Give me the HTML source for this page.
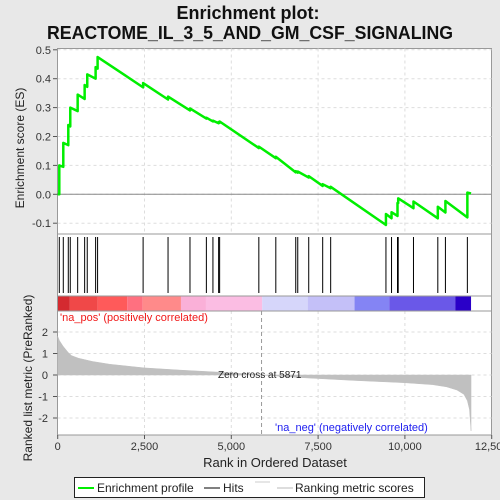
<!DOCTYPE html>
<html><head><meta charset="utf-8"><style>
html,body{margin:0;padding:0;background:#e8e8e8;}
svg{display:block;font-family:"Liberation Sans","DejaVu Sans",sans-serif;}
</style></head><body>
<svg id="c" width="500" height="500" viewBox="0 0 500 500" xmlns="http://www.w3.org/2000/svg">
<rect x="0" y="0" width="500" height="500" fill="#e8e8e8"/>
<text x="248" y="19" text-anchor="middle" font-size="18" font-weight="bold" fill="#111">Enrichment plot:</text>
<text x="250" y="39" text-anchor="middle" font-size="18" font-weight="bold" fill="#111" textLength="406" lengthAdjust="spacingAndGlyphs">REACTOME_IL_3_5_AND_GM_CSF_SIGNALING</text>
<g id="g"></g>
</svg>
<script>
const hitRanks=[46,161,305,362,575,776,851,1092,1149,2460,3178,3810,4282,4471,4635,4664,5793,6282,6856,6914,7230,7632,7862,9454,9615,9787,9807,10247,10948,11167,11799];
const esBefore=[0,0.095,0.17,0.235,0.288,0.33,0.372,0.40,0.435,0.37,0.328,0.29,0.262,0.252,0.246,0.248,0.16,0.125,0.076,0.075,0.058,0.029,0.021,-0.106,-0.083,-0.075,-0.03,-0.048,-0.083,-0.063,-0.08];
const esAfter=[0.10,0.178,0.24,0.30,0.345,0.378,0.415,0.44,0.475,0.385,0.338,0.297,0.265,0.255,0.25,0.252,0.165,0.13,0.08,0.079,0.063,0.035,0.026,-0.068,-0.062,-0.03,-0.014,-0.025,-0.043,-0.023,0.006];
const endRank=11905;
const esTicks=[0.5,0.4,0.3,0.2,0.1,0.0,-0.1];
const rankTicks=[0,2500,5000,7500,10000,12500];
const rankTickLabels=["0","2,500","5,000","7,500","10,000","12,500"];
const metricTicks=[2,1,0,-1,-2];
const metricRanks=[0,50,150,300,400,600,1000,1500,2500,3500,5000,5871,7000,8500,10000,10800,11200,11500,11700,11800,11860,11905];
const metricVals=[1.8,1.6,1.35,1.05,0.9,0.78,0.63,0.5,0.33,0.23,0.1,0,-0.12,-0.25,-0.36,-0.45,-0.55,-0.7,-0.9,-1.2,-1.6,-2.6];
const barStops=[0,350,1150,2000,2450,3550,4270,5890,7200,8550,9550,11450,11905];
const barColors=["#d42a30","#f04848","#ff5a5a","#ff7080","#ff8a8a","#fab0d8","#fbbde3","#d6d6fa","#c4c0f8","#8484f4","#6a58e8","#2a00c8"];

const NS="http://www.w3.org/2000/svg";
const g=document.getElementById('g');
function mk(t,a,p){const e=document.createElementNS(NS,t);for(const k in a)e.setAttribute(k,a[k]);(p||g).appendChild(e);return e;}
const X0=57.7,X1=491.7,RMAX=12500;
const xs=r=>X0+(X1-X0)*r/RMAX;
const yES=v=>194.3-v*289;
const yM=v=>375-v*21.5;

let e=mk('rect',{x:57.5,y:48.5,width:434,height:386.5,fill:'#fff',stroke:'#999'});

esTicks.forEach(v=>{
 e=mk('line',{x1:57.5,x2:491.5,y1:yES(v),y2:yES(v),stroke:'#ddd','stroke-dasharray':'3,3'});
 
 e=mk('line',{x1:53,x2:57.5,y1:yES(v),y2:yES(v),stroke:'#555'});
 
 e=mk('text',{x:51,y:yES(v)+4,'text-anchor':'end','font-size':'11',fill:'#333'});
 e.textContent=v.toFixed(1);
 
});
rankTicks.forEach((r,i)=>{
 if(i>0&&i<5){
 e=mk('line',{x1:xs(r),x2:xs(r),y1:48.5,y2:234,stroke:'#ddd','stroke-dasharray':'3,3'});
 
 e=mk('line',{x1:xs(r),x2:xs(r),y1:311,y2:435,stroke:'#ddd','stroke-dasharray':'3,3'});
 }
 e=mk('line',{x1:xs(r),x2:xs(r),y1:435,y2:439,stroke:'#555'});
 
 e=mk('text',{x:xs(r),y:450,'text-anchor':'middle','font-size':'11',fill:'#333'});
 e.textContent=rankTickLabels[i];
 
});
e=mk('line',{x1:57.5,x2:491.5,y1:yES(0),y2:yES(0),stroke:'#888'});

e=mk('line',{x1:57.5,x2:491.5,y1:234,y2:234,stroke:'#999'});

hitRanks.forEach(r=>{
 e=mk('line',{x1:xs(r),x2:xs(r),y1:237,y2:293,stroke:'#000','stroke-width':1});
 
});
for(let i=0;i<barColors.length;i++){
 e=mk('rect',{x:xs(barStops[i]),y:296,width:xs(barStops[i+1])-xs(barStops[i]),height:15,fill:barColors[i]});
 
}
e=mk('rect',{x:57.5,y:296,width:434,height:15,fill:'none',stroke:'#999'});

let pts=[[xs(0),yES(0)]];
hitRanks.forEach((r,i)=>{pts.push([xs(r),yES(esBefore[i])]);pts.push([xs(r),yES(esAfter[i])]);});
pts.push([xs(endRank),yES(0.003)]);
e=mk('polyline',{points:pts.map(p=>p.join(',')).join(' '),fill:'none',stroke:'#00ee00','stroke-width':2.5,'stroke-linejoin':'round'});

metricTicks.forEach(v=>{
 e=mk('line',{x1:57.5,x2:491.5,y1:yM(v),y2:yM(v),stroke:'#ddd','stroke-dasharray':'3,3'});
 
 e=mk('line',{x1:53,x2:57.5,y1:yM(v),y2:yM(v),stroke:'#555'});
 
 e=mk('text',{x:48,y:yM(v)+4,'text-anchor':'end','font-size':'11',fill:'#333'});
 e.textContent=String(v);
 
});
let mp=[[xs(0),yM(0)]];
metricRanks.forEach((r,i)=>mp.push([xs(r),yM(metricVals[i])]));
mp.push([xs(metricRanks[metricRanks.length-1]),yM(0)]);
e=mk('polygon',{points:mp.map(p=>p.join(',')).join(' '),fill:'#c0c0c0',stroke:'#c0c0c0','stroke-width':0.5});

e=mk('line',{x1:xs(5871),x2:xs(5871),y1:311,y2:435,stroke:'#999','stroke-dasharray':'4,3'});

e=mk('line',{x1:57.5,x2:491.5,y1:311,y2:311,stroke:'#999'});

</script>
<svg style="position:absolute;left:0;top:0" width="500" height="500" xmlns="http://www.w3.org/2000/svg">
<g font-family="Liberation Sans, DejaVu Sans, sans-serif">
<text x="60" y="321" font-size="11" fill="#f01818">'na_pos' (positively correlated)</text>
<text x="218" y="378" font-size="10" fill="#222">Zero cross at 5871</text>
<text x="275" y="431" font-size="11" fill="#2020f0">'na_neg' (negatively correlated)</text>
<text x="275" y="467" text-anchor="middle" font-size="13" fill="#222">Rank in Ordered Dataset</text>
<text transform="translate(24,148) rotate(-90)" text-anchor="middle" font-size="12" fill="#222">Enrichment score (ES)</text>
<text transform="translate(32,378) rotate(-90)" text-anchor="middle" font-size="12" fill="#222">Ranked list metric (PreRanked)</text>
<g>
<rect x="74.5" y="477.5" width="350" height="20" fill="#fff" stroke="#222"/>
<line x1="78" x2="94" y1="488" y2="488" stroke="#00ee00" stroke-width="2"/>
<text x="97" y="492" font-size="12" fill="#222">Enrichment profile</text>
<line x1="204" x2="220" y1="488" y2="488" stroke="#000"/>
<text x="223" y="492" font-size="12" fill="#222">Hits</text>
<line x1="255" x2="270" y1="482" y2="482" stroke="#ccc"/>
<line x1="277" x2="293" y1="488" y2="488" stroke="#bbb"/>
<text x="295" y="492" font-size="12" fill="#222">Ranking metric scores</text>
</g>
</g>
</svg>
</body></html>
